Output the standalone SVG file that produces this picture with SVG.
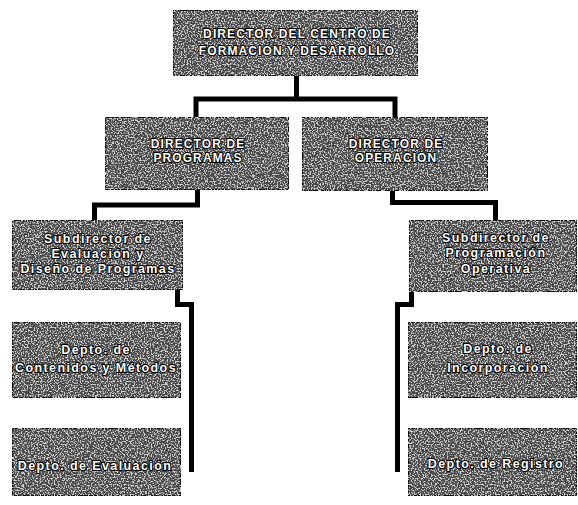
<svg xmlns="http://www.w3.org/2000/svg" width="578" height="505" viewBox="0 0 578 505">
<defs>
<filter id="grain" x="0" y="0" width="100%" height="100%" color-interpolation-filters="sRGB">
<feTurbulence type="fractalNoise" baseFrequency="0.7" numOctaves="1" seed="7" result="noise"/>
<feColorMatrix in="noise" type="matrix" values="0 0 0 0 0.82  0 0 0 0 0.82  0 0 0 0 0.82  8 0 0 0 -3.9" result="spk"/>
<feComposite in="spk" in2="SourceGraphic" operator="in" result="clip"/>
<feMerge><feMergeNode in="SourceGraphic"/><feMergeNode in="clip"/></feMerge>
</filter>
<style>
.box{fill:#464646;stroke:#0a0a0a;stroke-width:2;filter:url(#grain)}
.cap{font-family:"Liberation Sans",Arial,sans-serif;font-size:12px;font-weight:bold;letter-spacing:1.1px;fill:#fff;stroke:#000;stroke-width:2;paint-order:stroke;text-anchor:middle}
.low{font-family:"Liberation Sans",Arial,sans-serif;font-size:12.5px;font-weight:bold;letter-spacing:1.4px;fill:#fff;stroke:#000;stroke-width:2;paint-order:stroke;text-anchor:middle}
.con{fill:none;stroke:#000;stroke-width:5;stroke-linejoin:miter;stroke-linecap:butt}
</style>
</defs>
<rect width="578" height="505" fill="#fff"/>
<g id="connectors">
<path class="con" d="M296.5,76 V99 M196,117 V99 H395 V117"/>
<path class="con" d="M197.5,190 V205 H94.5 V220"/>
<path class="con" d="M392.5,191 V202.5 H495.5 V220"/>
<path class="con" d="M177.5,290 V304.5 H191.5 V472"/>
<path class="con" d="M411.5,292 V304.5 H397.5 V472"/>
</g>
<g id="director-centro">
<rect class="box" x="173" y="10" width="245" height="66"/>
<text class="cap" x="297" y="38">DIRECTOR DEL CENTRO DE</text>
<text class="cap" x="297" y="55">FORMACIÓN Y DESARROLLO</text>
</g>
<g id="director-programas">
<rect class="box" x="105" y="117" width="184" height="73"/>
<text class="cap" x="198" y="148">DIRECTOR DE</text>
<text class="cap" x="198" y="162">PROGRAMAS</text>
</g>
<g id="director-operacion">
<rect class="box" x="302" y="117" width="186" height="74"/>
<text class="cap" x="396" y="148">DIRECTOR DE</text>
<text class="cap" x="396" y="162">OPERACIÓN</text>
</g>
<g id="subdirector-evaluacion">
<rect class="box" x="12" y="220" width="171" height="70"/>
<text class="low" x="98" y="243">Subdirector de</text>
<text class="low" x="98" y="258">Evaluación y</text>
<text class="low" x="98" y="273">Diseño de Programas</text>
</g>
<g id="subdirector-programacion">
<rect class="box" x="409" y="220" width="168" height="72"/>
<text class="low" x="496" y="242">Subdirector de</text>
<text class="low" x="496" y="257">Programación</text>
<text class="low" x="496" y="273">Operativa</text>
</g>
<g id="depto-contenidos">
<rect class="box" x="12" y="322" width="169" height="76"/>
<text class="low" x="96" y="354">Depto. de</text>
<text class="low" x="96" y="372">Contenidos y Métodos</text>
</g>
<g id="depto-evaluacion">
<rect class="box" x="12" y="428" width="169" height="68"/>
<text class="low" x="95" y="470">Depto. de Evaluación</text>
</g>
<g id="depto-incorporacion">
<rect class="box" x="408" y="322" width="169" height="76"/>
<text class="low" x="498" y="353">Depto. de</text>
<text class="low" x="498" y="372">Incorporación</text>
</g>
<g id="depto-registro">
<rect class="box" x="408" y="428" width="169" height="68"/>
<text class="low" x="496" y="468">Depto. de Registro</text>
</g>
</svg>
